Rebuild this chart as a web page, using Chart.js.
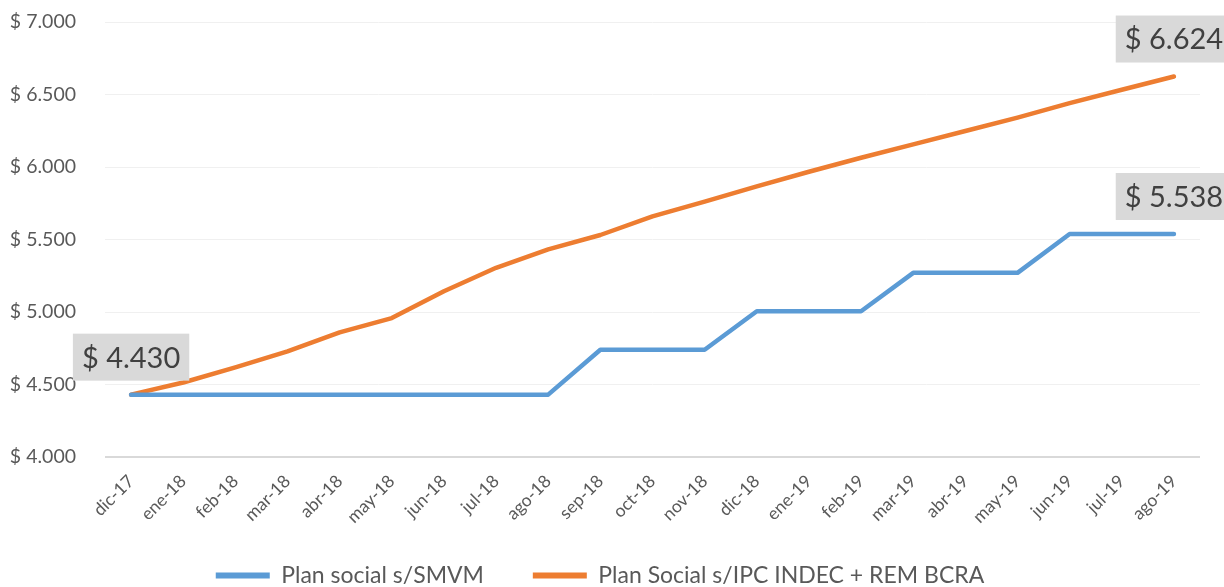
<!DOCTYPE html>
<html>
<head>
<meta charset="utf-8">
<script src="https://cdn.jsdelivr.net/npm/chart.js@4.4.0/dist/chart.umd.min.js"></script>
<style>
  html, body { margin: 0; padding: 0; background: #fff; }
  #wrap { width: 1224px; height: 587px; }
</style>
</head>
<body>
<div id="wrap"><canvas id="chart" width="1224" height="587"></canvas></div>
<script>
// ============================================================================
// Data
// ============================================================================

const MONTHS = [
  'dic-17', 'ene-18', 'feb-18', 'mar-18', 'abr-18', 'may-18', 'jun-18',
  'jul-18', 'ago-18', 'sep-18', 'oct-18', 'nov-18', 'dic-18', 'ene-19',
  'feb-19', 'mar-19', 'abr-19', 'may-19', 'jun-19', 'jul-19', 'ago-19'
];

const PLAN_SMVM = [
  4430, 4430, 4430, 4430, 4430, 4430, 4430, 4430, 4430,
  4740, 4740, 4740, 5005, 5005, 5005, 5270, 5270, 5270, 5538, 5538, 5538
];

const PLAN_IPC = [
  4430, 4514, 4618, 4729, 4860, 4958, 5143, 5305, 5432, 5531, 5659,
  5761, 5867, 5967, 6064, 6156, 6248, 6341, 6441, 6533, 6624
];

// which points carry a value label: [dataset index, point index]
const LABEL_SERIES = [1, 1, 0];
const LABEL_POINTS = [0, 20, 20];

const FONT = "Lato, 'Noto Sans', sans-serif";
const TEXT_COLOR = '#595959';

// ============================================================================
// Helpers
// ============================================================================

function formatPesos(v) {
  return '$ ' + String(Math.round(v)).replace(/\B(?=(\d{3})+(?!\d))/g, '.');
}

// gray boxed value labels above selected points
const valueLabels = {
  id: 'valueLabels',
  afterDatasetsDraw(chart) {
    const ctx = chart.ctx;
    ctx.save();
    ctx.font = '29px ' + FONT;
    ctx.textAlign = 'center';
    ctx.textBaseline = 'middle';
    for (let k = 0; k < LABEL_SERIES.length; k++) {
      const ds = LABEL_SERIES[k];
      const idx = LABEL_POINTS[k];
      const pt = chart.getDatasetMeta(ds).data[idx];
      const text = formatPesos(chart.data.datasets[ds].data[idx]);
      const w = ctx.measureText(text).width + 18;
      const h = 47;
      const cx = pt.x;
      const bottom = pt.y - 14;
      ctx.fillStyle = '#d9d9d9';
      ctx.fillRect(cx - w / 2, bottom - h, w, h);
      ctx.fillStyle = '#404040';
      ctx.fillText(text, cx, bottom - h / 2 + 1);
    }
    ctx.restore();
  }
};

// ============================================================================
// Chart
// ============================================================================

const ctx = document.getElementById('chart').getContext('2d');

new Chart(ctx, {
  type: 'line',
  data: {
    labels: MONTHS,
    datasets: [
      {
        label: 'Plan social s/SMVM',
        data: PLAN_SMVM,
        borderColor: '#5b9bd5',
        backgroundColor: '#5b9bd5',
        borderWidth: 4.5,
        pointRadius: 0,
        tension: 0,
        borderCapStyle: 'round',
        borderJoinStyle: 'round'
      },
      {
        label: 'Plan Social s/IPC INDEC + REM BCRA',
        data: PLAN_IPC,
        borderColor: '#ed7d31',
        backgroundColor: '#ed7d31',
        borderWidth: 4.5,
        pointRadius: 0,
        tension: 0,
        borderCapStyle: 'round',
        borderJoinStyle: 'round'
      }
    ]
  },
  options: {
    responsive: false,
    animation: false,
    layout: { padding: { top: 22, right: 24, left: 0, bottom: -10 } },
    scales: {
      x: {
        offset: true,
        grid: { display: false, drawTicks: false },
        border: { display: false },
        ticks: {
          color: TEXT_COLOR,
          font: { family: FONT, size: 17.5 },
          maxRotation: 45,
          minRotation: 45,
          autoSkip: false,
          padding: 14
        },
        afterFit(scale) { scale.height = 107; }
      },
      y: {
        min: 4000,
        max: 7000,
        grid: {
          drawTicks: false,
          color: (c) => c.tick && c.tick.value === 4000 ? '#d9d9d9' : '#f0f0f0',
          lineWidth: (c) => c.tick && c.tick.value === 4000 ? 2 : 1
        },
        border: { display: false },
        ticks: {
          stepSize: 500,
          color: TEXT_COLOR,
          font: { family: FONT, size: 19.5 },
          padding: 29,
          callback: (v) => formatPesos(v)
        },
        afterFit(scale) {
          scale.width = 105;
          scale.paddingTop = 0;
          scale.paddingBottom = 0;
        }
      }
    },
    plugins: {
      legend: {
        position: 'bottom',
        labels: {
          color: TEXT_COLOR,
          font: { family: FONT, size: 23 },
          boxWidth: 54,
          boxHeight: 6,
          padding: 0,
          generateLabels(chart) {
            const items = Chart.defaults.plugins.legend.labels.generateLabels(chart);
            items.forEach((it, i) => {
              it.lineWidth = 0;
              it.strokeStyle = 'rgba(0,0,0,0)';
              // gap between legend entries
              if (i < items.length - 1) it.text += '\u2003\u2003\u2002\u2009';
            });
            return items;
          }
        }
      },
      tooltip: { enabled: false }
    }
  },
  plugins: [valueLabels]
});
</script>
</body>
</html>
